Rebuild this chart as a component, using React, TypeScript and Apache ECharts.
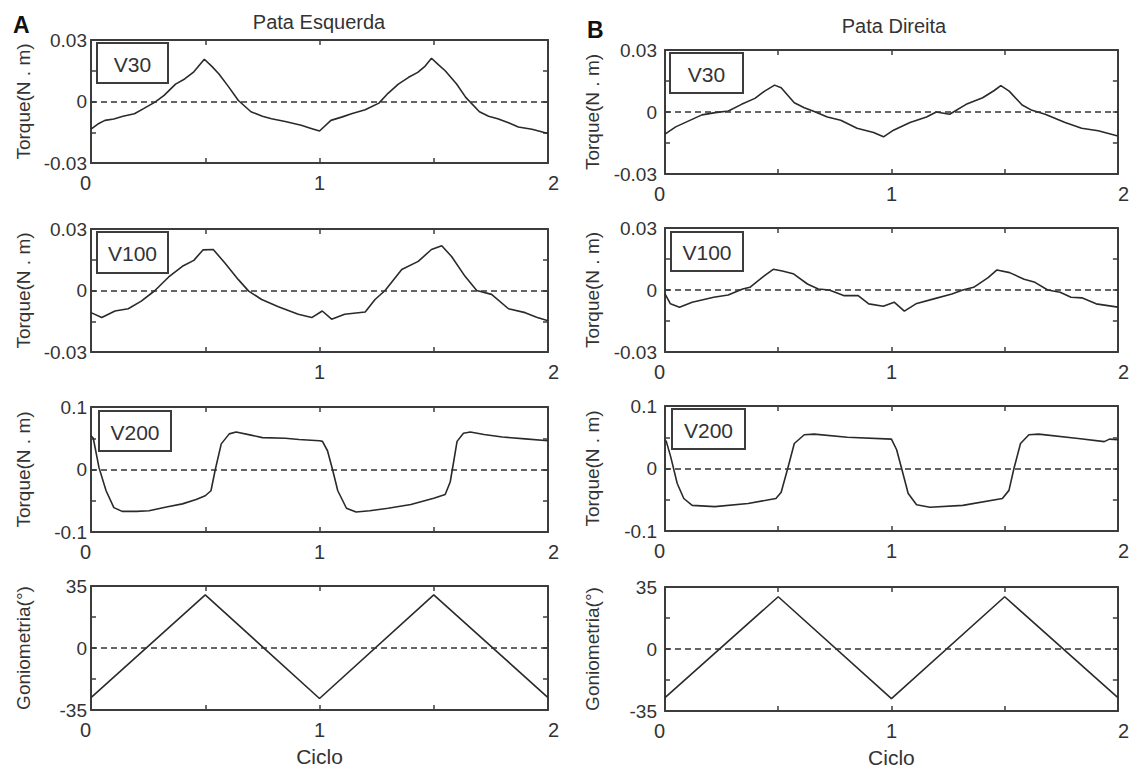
import React, { useEffect, useRef } from "react";
import * as echarts from "echarts";

// ---------- tick labels ----------
const cycleLabels = ["0", "1", "2"];
const cycleLabelsNoZero = ["1", "2"];
const torqueTicks = ["-0.03", "0", "0.03"];
const v200Ticks = ["-0.1", "0", "0.1"];
const gonioTicks = ["-35", "0", "35"];

// ---------- data: [ciclo, valor] ----------
const esqV30: [number, number][] = [
  [0, -0.0135], [0.03, -0.011], [0.061, -0.0092], [0.1, -0.0085], [0.14, -0.0072], [0.19, -0.006],
  [0.23, -0.0035], [0.28, -0.0003], [0.32, 0.003], [0.37, 0.0085], [0.41, 0.011], [0.45, 0.0145],
  [0.496, 0.0206], [0.53, 0.017], [0.56, 0.0134], [0.6, 0.0075], [0.645, 0.0005], [0.7, -0.005],
  [0.75, -0.0072], [0.79, -0.0084], [0.85, -0.0098], [0.92, -0.0116], [0.96, -0.013], [1.0, -0.0144],
  [1.05, -0.0092], [1.1, -0.0075], [1.14, -0.006], [1.2, -0.004], [1.26, -0.0008], [1.3, 0.004],
  [1.345, 0.0085], [1.39, 0.0118], [1.43, 0.0142], [1.46, 0.017], [1.49, 0.0211], [1.52, 0.018],
  [1.55, 0.015], [1.6, 0.0085], [1.64, 0.002], [1.7, -0.005], [1.74, -0.0072], [1.78, -0.0084],
  [1.83, -0.0105], [1.87, -0.0124], [1.93, -0.0135], [2.0, -0.0156],
];

const esqV100: [number, number][] = [
  [0, -0.0108], [0.047, -0.0132], [0.105, -0.01], [0.163, -0.0089], [0.22, -0.0052], [0.28, 0],
  [0.34, 0.0066], [0.4, 0.0118], [0.45, 0.0147], [0.49, 0.0198], [0.535, 0.02], [0.586, 0.0134],
  [0.645, 0.0053], [0.69, -0.0003], [0.747, -0.0044], [0.82, -0.0079], [0.907, -0.0116],
  [0.966, -0.0132], [1.012, -0.01], [1.053, -0.014], [1.11, -0.0116], [1.2, -0.0105],
  [1.243, -0.0044], [1.287, 0], [1.36, 0.0102], [1.432, 0.0142], [1.49, 0.02], [1.535, 0.0218],
  [1.578, 0.0166], [1.637, 0.0069], [1.688, 0], [1.753, -0.0019], [1.827, -0.0089], [1.9, -0.0108],
  [1.95, -0.013], [2.0, -0.0148],
];

const esqV200: [number, number][] = [
  [0, 0.054], [0.01, 0.05], [0.035, 0.003], [0.066, -0.034], [0.1, -0.061], [0.136, -0.067],
  [0.2, -0.067], [0.254, -0.066], [0.33, -0.06], [0.4, -0.055], [0.46, -0.048], [0.5, -0.042],
  [0.525, -0.034], [0.544, 0], [0.57, 0.041], [0.605, 0.057], [0.635, 0.06], [0.7, 0.055],
  [0.75, 0.051], [0.85, 0.05], [0.91, 0.048], [1.0, 0.046], [1.013, 0.045], [1.035, 0.03],
  [1.057, 0], [1.08, -0.034], [1.118, -0.062], [1.16, -0.068], [1.22, -0.066], [1.3, -0.062],
  [1.4, -0.056], [1.5, -0.046], [1.55, -0.04], [1.572, -0.02], [1.586, 0.01], [1.602, 0.045],
  [1.63, 0.058], [1.66, 0.06], [1.72, 0.056], [1.8, 0.052], [1.9, 0.049], [2.0, 0.046],
];

const esqGonio: [number, number][] = [
  [0, -28], [0.5, 30], [1.0, -28.5], [1.5, 30], [2.0, -28],
];

const dirV30: [number, number][] = [
  [0, -0.0107], [0.047, -0.0072], [0.105, -0.0043], [0.163, -0.0014], [0.222, -0.0003],
  [0.28, 0.0005], [0.338, 0.0037], [0.397, 0.0066], [0.44, 0.0101], [0.484, 0.013], [0.513, 0.0117],
  [0.571, 0.0045], [0.615, 0.0021], [0.659, 0.0002], [0.717, -0.0024], [0.776, -0.004],
  [0.848, -0.0079], [0.921, -0.0099], [0.965, -0.012], [1.009, -0.0088], [1.082, -0.0051],
  [1.155, -0.0024], [1.198, 0], [1.257, -0.0011], [1.33, 0.0037], [1.403, 0.0069], [1.454, 0.0104],
  [1.483, 0.0128], [1.52, 0.0101], [1.577, 0.0034], [1.621, 0.0008], [1.679, -0.0011],
  [1.767, -0.0051], [1.84, -0.0079], [1.913, -0.0091], [2.0, -0.0116],
];

const dirV100: [number, number][] = [
  [0, -0.0019], [0.024, -0.0067], [0.064, -0.0083], [0.12, -0.0059], [0.215, -0.0035],
  [0.279, -0.0024], [0.343, 0.0005], [0.375, 0.0013], [0.438, 0.0068], [0.478, 0.01], [0.518, 0.0092],
  [0.566, 0.0079], [0.629, 0.0029], [0.677, 0.0005], [0.725, 0], [0.789, -0.0027], [0.853, -0.0027],
  [0.9, -0.0067], [0.964, -0.0079], [1.012, -0.0059], [1.057, -0.0102], [1.108, -0.0067],
  [1.187, -0.0043], [1.267, -0.0019], [1.315, 0], [1.363, 0.0013], [1.427, 0.006], [1.466, 0.0097],
  [1.522, 0.0084], [1.586, 0.0052], [1.634, 0.0037], [1.69, 0], [1.745, -0.0011], [1.793, -0.0035],
  [1.841, -0.0038], [1.904, -0.0067], [2.0, -0.0083],
];

const dirV200: [number, number][] = [
  [0, 0.046], [0.006, 0.043], [0.025, 0.019], [0.054, -0.024], [0.083, -0.048], [0.12, -0.059],
  [0.22, -0.061], [0.367, -0.056], [0.49, -0.048], [0.513, -0.038], [0.542, 0], [0.571, 0.04],
  [0.615, 0.054], [0.659, 0.055], [0.805, 0.05], [1.0, 0.047], [1.023, 0.03], [1.045, 0],
  [1.074, -0.04], [1.111, -0.058], [1.17, -0.062], [1.315, -0.059], [1.49, -0.048], [1.519, -0.035],
  [1.541, 0], [1.57, 0.04], [1.607, 0.054], [1.65, 0.055], [1.825, 0.048], [1.94, 0.043],
  [1.963, 0.047], [2.0, 0.046],
];

const dirGonio: [number, number][] = [
  [0, -27.5], [0.5, 29.5], [1.0, -28], [1.5, 29.5], [2.0, -27.5],
];

// ---------- panels ----------
type Panel = {
  data: [number, number][];
  tag: string | null;
  col: number;
  row: number;
  min: number;
  max: number;
  interval: number;
  yTicks: string[];
  xTicks: string[];
  yName: string;
};

const TORQUE = "Torque(N . m)";
const GONIO = "Goniometria(°)";

const panels: Panel[] = [
  { data: esqV30, tag: "V30", col: 0, row: 0, min: -0.03, max: 0.03, interval: 0.015, yTicks: torqueTicks, xTicks: cycleLabels, yName: TORQUE },
  { data: esqV100, tag: "V100", col: 0, row: 1, min: -0.03, max: 0.03, interval: 0.015, yTicks: torqueTicks, xTicks: cycleLabelsNoZero, yName: TORQUE },
  { data: esqV200, tag: "V200", col: 0, row: 2, min: -0.1, max: 0.1, interval: 0.05, yTicks: v200Ticks, xTicks: cycleLabels, yName: TORQUE },
  { data: esqGonio, tag: null, col: 0, row: 3, min: -35, max: 35, interval: 17.5, yTicks: gonioTicks, xTicks: cycleLabels, yName: GONIO },
  { data: dirV30, tag: "V30", col: 1, row: 0, min: -0.03, max: 0.03, interval: 0.015, yTicks: torqueTicks, xTicks: cycleLabels, yName: TORQUE },
  { data: dirV100, tag: "V100", col: 1, row: 1, min: -0.03, max: 0.03, interval: 0.015, yTicks: torqueTicks, xTicks: cycleLabels, yName: TORQUE },
  { data: dirV200, tag: "V200", col: 1, row: 2, min: -0.1, max: 0.1, interval: 0.05, yTicks: v200Ticks, xTicks: cycleLabels, yName: TORQUE },
  { data: dirGonio, tag: null, col: 1, row: 3, min: -35, max: 35, interval: 17.5, yTicks: gonioTicks, xTicks: cycleLabels, yName: GONIO },
];

// ---------- layout ----------
const colX = [91, 665];
const colW = [457, 456];
const rowBoxes = [
  [[40, 123], [229, 123], [407, 125], [586, 124]],
  [[50, 124], [228, 124], [406, 125], [587, 124]],
];
const tagBoxes = [
  [[97, 43, 71, 40], [97, 232, 71, 41], [99, 411, 72, 40]],
  [[670, 53, 73, 40], [671, 232, 72, 39], [672, 409, 73, 40]],
];
const yLabelMargin = [4, 8];
const yNameGap = [58, 63];

const FONT = "'Liberation Sans', Arial, Helvetica, sans-serif";
const INK = "#333";
const FRAME = { color: "#3c3c3c", width: 2 };

function fmt(labels: string[]) {
  return (v: number) => {
    for (const l of labels) if (Math.abs(Number(l) - v) < 1e-9) return l;
    return "";
  };
}

function buildOption() {
  const grid: any[] = [];
  const xAxis: any[] = [];
  const yAxis: any[] = [];
  const series: any[] = [];
  const graphic: any[] = [];

  panels.forEach((p, i) => {
    const [top, height] = rowBoxes[p.col][p.row];
    grid.push({ left: colX[p.col], top, width: colW[p.col], height, containLabel: false });
    const tick = { show: true, inside: true, length: 5, lineStyle: { color: "#3c3c3c", width: 1.5 } };
    const isBottom = p.row === 3;
    xAxis.push({
      type: "value", gridIndex: i, min: 0, max: 2, interval: 0.5, position: "bottom",
      axisLine: { show: true, onZero: false, lineStyle: FRAME },
      axisTick: tick, splitLine: { show: false },
      axisLabel: {
        formatter: fmt(p.xTicks), fontSize: 20, color: INK, fontFamily: FONT, margin: 10,
        alignMinLabel: "right", alignMaxLabel: "left", showMinLabel: true, showMaxLabel: true,
      },
      name: isBottom ? "Ciclo" : "", nameLocation: "middle", nameGap: 36,
      nameTextStyle: { fontSize: 21, color: INK, fontFamily: FONT },
    });
    xAxis.push({
      type: "value", gridIndex: i, min: 0, max: 2, interval: 0.5, position: "top",
      axisLine: { show: true, onZero: false, lineStyle: FRAME },
      axisTick: tick, splitLine: { show: false }, axisLabel: { show: false },
    });
    yAxis.push({
      type: "value", gridIndex: i, min: p.min, max: p.max, interval: p.interval, position: "left",
      axisLine: { show: true, onZero: false, lineStyle: FRAME },
      axisTick: tick, splitLine: { show: false },
      axisLabel: { formatter: fmt(p.yTicks), fontSize: 19, color: INK, fontFamily: FONT, margin: yLabelMargin[p.col], showMinLabel: true, showMaxLabel: true },
      name: p.yName, nameLocation: "middle", nameGap: yNameGap[p.col],
      nameTextStyle: { fontSize: 19, color: INK, fontFamily: FONT },
    });
    yAxis.push({
      type: "value", gridIndex: i, min: p.min, max: p.max, interval: p.interval, position: "right",
      axisLine: { show: true, onZero: false, lineStyle: FRAME },
      axisTick: tick, splitLine: { show: false }, axisLabel: { show: false },
    });
    series.push({
      type: "line", xAxisIndex: 2 * i, yAxisIndex: 2 * i, data: p.data,
      symbol: "none", showSymbol: false, smooth: false,
      lineStyle: { color: "#2a2a2a", width: 1.6 },
      markLine: {
        silent: true, symbol: ["none", "none"], label: { show: false },
        lineStyle: { type: [6, 4], color: "#333", width: 1.6 },
        data: [{ yAxis: 0 }],
      },
    });
    if (p.tag) {
      const [bx, by, bw, bh] = tagBoxes[p.col][p.row];
      graphic.push({
        type: "rect", shape: { x: bx, y: by, width: bw, height: bh },
        style: { fill: "#fff", stroke: "#3c3c3c", lineWidth: 2 }, z: 10,
      });
      graphic.push({
        type: "text", x: bx + bw / 2, y: by + bh / 2 + 1, z: 11,
        style: { text: p.tag, fill: INK, fontSize: 21, fontFamily: FONT, align: "center", verticalAlign: "middle" },
      });
    }
  });

  graphic.push(
    { type: "text", x: 319, y: 22, style: { text: "Pata Esquerda", fill: INK, fontSize: 20, fontFamily: FONT, align: "center", verticalAlign: "middle" } },
    { type: "text", x: 894, y: 26, style: { text: "Pata Direita", fill: INK, fontSize: 20, fontFamily: FONT, align: "center", verticalAlign: "middle" } },
    { type: "text", x: 13, y: 25, style: { text: "A", fill: "#111", fontSize: 23, fontWeight: "bold", fontFamily: FONT, align: "left", verticalAlign: "middle" } },
    { type: "text", x: 587, y: 30, style: { text: "B", fill: "#111", fontSize: 23, fontWeight: "bold", fontFamily: FONT, align: "left", verticalAlign: "middle" } },
  );

  return {
    animation: false,
    backgroundColor: "#fff",
    grid, xAxis, yAxis, series, graphic,
  };
}

export default function App() {
  const ref = useRef<HTMLDivElement>(null);
  useEffect(() => {
    if (!ref.current) return;
    const chart = echarts.init(ref.current, undefined, { renderer: "svg" });
    chart.setOption(buildOption() as any);
    return () => chart.dispose();
  }, []);
  return (
    <div
      ref={ref}
      style={{ position: "fixed", left: 0, top: 0, width: 1132, height: 771, background: "#fff" }}
    />
  );
}
